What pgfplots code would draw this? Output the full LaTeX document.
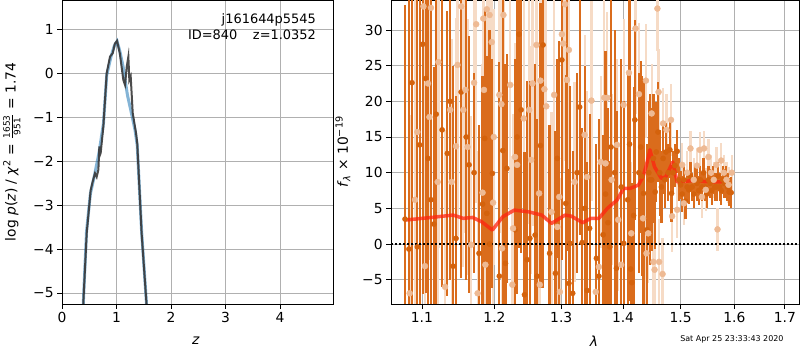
\documentclass[border=0pt]{standalone}
\usepackage{pgfplots}
\pgfplotsset{compat=1.18}
\usepackage{pgfplotstable}
\usepackage{fontspec}
\setmainfont{DejaVu Sans}
\definecolor{darkor}{RGB}{218,108,28}
\definecolor{markor}{RGB}{212,98,12}
\definecolor{paleor}{RGB}{246,219,198}
\definecolor{palemark}{RGB}{238,186,148}
\definecolor{redline}{RGB}{255,35,15}
\definecolor{blu}{RGB}{31,119,180}
\definecolor{gridc}{RGB}{176,176,176}

\pgfplotstableread{
x y e
1.078 3.5 30
1.083 -0.7 35
1.087 22.6 32
1.094 -0.4 36
1.097 13.9 25
1.101 28 35
1.105 23.2 30
1.108 12.0 24
1.112 6.2 30
1.116 2.8 22
1.119 18.2 28
1.127 16.0 22
1.134 12.7 20
1.138 20 25
1.142 -3.1 28
1.146 0.8 20
1.153 21.3 26
1.160 15 20
1.164 11.1 18
1.171 10 14
1.178 -1.3 18
1.183 5.6 18
1.186 14.8 18
1.189 4.3 22
1.193 0 30
1.197 9.9 16
1.207 -4.5 30
1.212 13.1 24
1.216 -2.7 28
1.218 10.6 16
1.230 2 24
1.233 15 22
1.236 29.4 30
1.239 18.8 20
1.244 -7.1 20
1.248 -2.2 25
1.252 0.8 22
1.260 1.26 24
1.263 -4.5 22
1.268 13.8 20
1.272 27.9 34
1.282 -1.3 18
1.291 -4.1 20
1.294 12 14
1.297 6.5 22
1.301 25.8 28
1.307 5.7 18
1.309 23.0 24
1.312 -5.5 16
1.314 0.1 22
1.318 -6.9 20
1.325 10 14
1.329 19.2 18
1.333 0.2 16
1.337 5 20
1.341 -6.5 18
1.345 2.2 16
1.356 -2 16
1.360 -4.5 22
1.367 1.3 14
1.371 7 20
1.375 3 16
1.378 -0.4 12
1.380 13.6 24
1.386 10 20
1.389 -3.4 22
1.397 8 18
1.401 0.1 20
1.408 6.2 18
1.411 14 22
1.413 -3.5 12
1.415 -5.4 14
1.418 4 18
1.420 17.4 14
1.427 10 14
1.430 13.6 12
1.432 9.5 14
1.435 7.1 16
1.441 2.0 12
1.444 10 10
1.446 9.0 12
1.449 9.0 10
1.452 12 9
1.455 7.3 8
1.457 12.9 7
1.460 15.7 7
1.463 10 6
1.466 8 5
1.469 12 5
1.472 9 4
1.474 12.9 4
1.478 10 4
1.481 13.2 4
1.484 7.1 4
1.487 10 3
1.490 11 3
1.494 13 3
1.497 9 3
1.500 8.3 2
1.503 7 2.5
1.506 9 2
1.509 6 2.5
1.512 8 2
1.515 7.6 2
1.518 9.5 2
1.521 8 2
1.524 7 2
1.527 9 2
1.530 8.5 2.5
1.533 7.5 2
1.536 9 2
1.539 8 2
1.542 10 2
1.545 8 2
1.548 7 2
1.551 9 2
1.554 8.5 2
1.557 7.5 2
1.560 9 2
1.563 8 2
1.566 8 2
1.569 9.5 2
1.572 8 2
1.575 7.5 2
1.578 9 2
1.581 8.5 2
1.584 9 2
1.587 8 2
1.590 7.3 2
1.594 7.2 2.2
}\darkdata

\pgfplotstableread{
x y e
1.084 -6.9 25
1.091 6.2 28
1.094 15.7 25
1.102 33.3 30
1.104 -3.1 22
1.108 22.5 28
1.110 17.8 20
1.112 33.1 30
1.121 8.7 24
1.122 25.5 26
1.131 -6.0 22
1.138 18.8 22
1.140 8.7 20
1.146 13.7 18
1.148 25.1 24
1.153 33.3 30
1.156 18.8 22
1.159 21.6 20
1.162 13.6 18
1.167 -0.1 18
1.171 22.6 20
1.174 30.8 25
1.176 -6.9 20
1.183 7.2 18
1.184 31.6 22
1.185 21.6 20
1.187 -2.9 16
1.189 32.9 25
1.193 32.1 22
1.196 28.3 20
1.198 5.8 16
1.199 15.0 18
1.207 20.9 20
1.210 19.6 18
1.211 -0.6 18
1.213 32.1 22
1.223 22.3 18
1.226 -5.7 18
1.227 2.2 16
1.230 12.2 16
1.233 11.1 14
1.243 17.6 18
1.251 18.8 16
1.254 11.8 16
1.256 22.5 20
1.262 27.9 20
1.266 7.1 16
1.267 -5.7 16
1.268 22.9 18
1.274 21.7 18
1.277 19.3 16
1.285 4.5 14
1.289 20.9 16
1.294 2.4 14
1.297 6.6 16
1.298 -6.7 16
1.301 29.4 20
1.303 28.1 18
1.306 33.6 22
1.309 23.0 18
1.312 27.2 18
1.321 8.7 14
1.337 15.3 14
1.341 9.4 12
1.348 20.1 14
1.355 -6.7 12
1.360 -3.2 12
1.363 11.5 12
1.369 20.5 14
1.371 11.3 12
1.374 20.5 12
1.381 9.0 12
1.390 13.9 12
1.392 3.4 10
1.397 -2.9 10
1.401 19.5 12
1.410 24.0 12
1.414 1.5 10
1.421 30.2 12
1.427 21.0 10
1.434 3.6 8
1.439 22.9 8
1.440 -1.3 8
1.443 1.5 7
1.449 18.3 7
1.452 -2.5 6
1.454 -3.6 6
1.459 33.0 6
1.461 21.3 6
1.462 -2.5 6
1.468 -4.2 5
1.469 16.9 5
1.475 16.0 5
1.483 17.4 5
1.485 3.9 5
1.494 4.8 4
1.503 11.1 3
1.506 5.7 3
1.512 10 3
1.518 13.4 2.5
1.524 9 3
1.530 11 2.5
1.535 13.2 2.5
1.539 6.6 3
1.543 13.4 2.5
1.546 7.6 3
1.551 12.2 2.5
1.556 10 2.5
1.561 9 2.5
1.566 11.1 2.5
1.568 2.06 3
1.575 11.7 2.5
1.580 10 2.5
1.585 9 2.5
1.589 8.3 2.5
1.595 10 2.5
}\lightdata

\pgfplotsset{
  myaxis/.style={
    scale only axis,
    axis line style={line width=0.8pt},
    tick style={line width=0.8pt, black},
    tick align=outside,
    major tick length=4.9bp,
    xtick pos=bottom, ytick pos=left,
    grid=major,
    major grid style={gridc, line width=0.8pt},
    ticklabel style={font=\fontsize{13.9}{16}\selectfont},
    label style={font=\fontsize{13.9}{16}\selectfont},
  }
}

\begin{document}
\begin{tikzpicture}
\useasboundingbox (0,0) rectangle (800bp,350bp);

% ---------- left panel ----------
\begin{axis}[myaxis,
  at={(62bp,46bp)}, anchor=south west,
  width=271bp, height=304bp,
  xmin=0, xmax=4.97, ymin=-5.25, ymax=1.66,
  xtick={0,1,2,3,4}, xticklabels={0,1,2,3,4},
  ytick={-5,-4,-3,-2,-1,0,1},
  yticklabels={−5,−4,−3,−2,−1,0,1},
  xlabel={\textit{z}},
  ylabel={log \textit{p}(\textit{z}) / \textit{χ}\textsuperscript{2} = $\frac{\mbox{\fontsize{9}{9}\selectfont 1653}}{\mbox{\fontsize{9}{9}\selectfont 951}}$ = 1.74},
  xlabel style={at={(axis description cs:0.494,-0.122)}, anchor=center},
  ylabel style={at={(axis description cs:-0.185,0.5)}, anchor=center},
]
\addplot[blu, opacity=0.55, line width=3bp] coordinates {
(0.37,-6) (0.39,-5.25) (0.45,-3.6) (0.52,-2.75) (0.60,-2.3) (0.68,-1.8) (0.76,-1.15)
(0.82,-0.05) (0.90,0.38) (0.96,0.62) (1.01,0.72) (1.06,0.5) (1.12,0.15) (1.20,-0.5)
(1.28,-0.95) (1.34,-1.3) (1.38,-1.65) (1.46,-3.6) (1.55,-5.25) (1.57,-6)};
\addplot[black!78, opacity=0.9, line width=2bp] coordinates {
(0.37,-6) (0.39,-5.25) (0.453,-3.64) (0.526,-2.66) (0.563,-2.47) (0.605,-2.28)
(0.636,-2.36) (0.667,-2.2) (0.685,-1.67) (0.70,-1.85) (0.709,-1.82) (0.758,-1.22)
(0.82,0.0) (0.88,0.37) (0.93,0.45) (0.97,0.67) (1.01,0.73) (1.06,0.45)
(1.125,-0.16) (1.156,-0.27) (1.187,0.14) (1.217,0.37) (1.235,-0.16) (1.26,-0.08)
(1.297,-0.91) (1.358,-1.37) (1.38,-1.6) (1.46,-3.64) (1.55,-5.25) (1.57,-6)};
\node[anchor=east, font=\fontsize{13}{15}\selectfont] at (rel axis cs:0.95,0.934) {j161644p5545};
\node[anchor=east, font=\fontsize{13}{15}\selectfont] at (rel axis cs:0.95,0.885) {ID=840\hspace{1.2em}z=1.0352};
\end{axis}

% ---------- right panel ----------
\begin{axis}[myaxis,
  at={(391bp,46bp)}, anchor=south west,
  width=408bp, height=304bp,
  xmode=log,
  xmin=1.06, xmax=1.729, ymin=-8.4, ymax=34.2,
  xtick={1.1,1.2,1.3,1.4,1.5,1.6,1.7},
  xticklabels={1.1,1.2,1.3,1.4,1.5,1.6,1.7},
  minor xtick={}, 
  ytick={-5,0,5,10,15,20,25,30},
  yticklabels={−5,0,5,10,15,20,25,30},
  xlabel={\textit{λ}},
  ylabel={\textit{f}\textsubscript{\textit{λ}} × 10\textsuperscript{−19}},
  xlabel style={at={(axis description cs:0.4975,-0.122)}, anchor=center},
  ylabel style={at={(axis description cs:-0.118,0.5)}, anchor=center},
]
\addplot[only marks, mark=none, color=paleor,
  error bars/.cd, y dir=both, y explicit, error mark=none,
  error bar style={line width=2.2bp, paleor}]
  table[x=x, y=y, y error=e] {\lightdata};
\addplot[only marks, mark=*, mark size=2.6bp, color=markor, mark options={draw=none, fill=markor},
  error bars/.cd, y dir=both, y explicit, error mark=none,
  error bar style={line width=2.2bp, darkor}]
  table[x=x, y=y, y error=e] {\darkdata};
\addplot[only marks, mark=*, mark size=3bp, color=palemark,
  mark options={draw=none, fill=palemark}]
  table[x=x, y=y] {\lightdata};
\addplot[redline, opacity=0.75, line width=3.5bp, line join=round] coordinates {
(1.078,3.36) (1.110,3.7) (1.142,4.06) (1.156,3.6) (1.169,3.73) (1.182,3.1) (1.197,1.96)
(1.212,3.83) (1.229,4.76) (1.251,4.5) (1.270,4.06) (1.285,2.9) (1.306,4.06) (1.316,3.9)
(1.334,2.99) (1.347,3.6) (1.360,3.6) (1.374,5.0) (1.390,6.16) (1.401,7.8) (1.412,7.8)
(1.426,8.26) (1.434,9.43) (1.440,11.1) (1.446,13.2) (1.454,10.8) (1.466,9.2) (1.474,9.43)
(1.486,11.5) (1.494,8.7) (1.520,8.87) (1.550,8.73) (1.585,8.73)};
\addplot[black, line width=1.5bp, dash pattern=on 1.5bp off 2.5bp] coordinates {(1.06,0) (1.729,0)};
\end{axis}

\node[anchor=east, font=\fontsize{8}{9}\selectfont] at (787bp,11bp) {Sat Apr 25 23:33:43 2020};
\end{tikzpicture}
\end{document}
